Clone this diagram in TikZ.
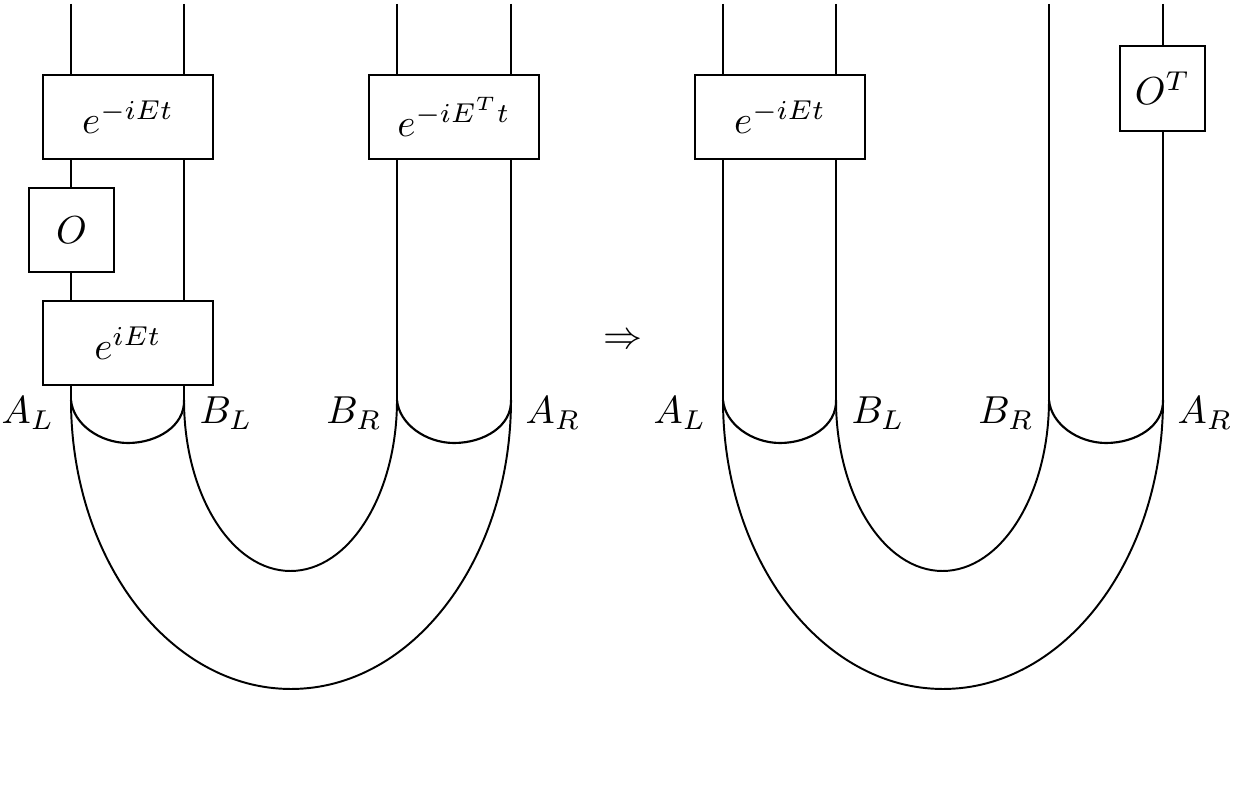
\documentclass[tikz,border=0pt]{standalone}
\begin{document}
\begin{tikzpicture}[x=0.2564pt,y=-0.2564pt,
  thinwire/.style={line width=0.4pt},
  thickwire/.style={line width=0.6pt},
  cup/.style={line width=0.55pt},
  bigarc/.style={line width=0.5pt},
  gate/.style={draw,line width=0.6pt,fill=white,inner sep=0pt,minimum width=43.6pt,minimum height=21.5pt},
  sgate/.style={draw,line width=0.6pt,fill=white,inner sep=0pt,minimum width=21.8pt,minimum height=21.7pt},
  lab/.style={inner sep=0pt}]
\useasboundingbox (0,0) rectangle (1236,788);
% ---------- left diagram ----------
\coordinate (aLt) at (71,4);   \coordinate (aL) at (71,400);
\coordinate (bLt) at (184,4);  \coordinate (bL) at (184,400);
\coordinate (bRt) at (397,4);  \coordinate (bR) at (397,400);
\coordinate (aRt) at (511,4);  \coordinate (aR) at (511,400);
\draw[thinwire] (aLt) -- (aL);
\draw[thickwire] (bLt) -- (bL);
\draw[thinwire] (bRt) -- (bR);
\draw[thickwire] (aRt) -- (aR);
\node[gate] (u1) at (128,117) {$e^{-iEt}$};
\node[sgate] (o1) at (71.5,230) {$O$};
\node[gate] (v1) at (128,343) {$e^{iEt}$};
\node[gate] (w1) at (454,117) {$e^{-iE^Tt}$};
\draw[bigarc] (aL) arc[start angle=180,end angle=360,x radius={220*0.2564pt},y radius={289*0.2564pt}];
\draw[bigarc] (bL) arc[start angle=180,end angle=360,x radius={106.5*0.2564pt},y radius={171*0.2564pt}];
\draw[cup] (aL) .. controls (73,424) and (100,443) .. (128,443) .. controls (157,443) and (185,426) .. (bL);
\draw[cup] (bR) .. controls (399,424) and (426,443) .. (454,443) .. controls (484,443) and (512,426) .. (aR);
\node[lab] (laL) at (28,413) {$A_L$};
\node[lab] (lbL) at (226,413) {$B_L$};
\node[lab] (lbR) at (354,413) {$B_R$};
\node[lab] (laR) at (553,413) {$A_R$};
% ---------- arrow ----------
\node[lab] (imp) at (623,341) {$\Rightarrow$};
% ---------- right diagram ----------
\coordinate (caLt) at (723,4);   \coordinate (caL) at (723,400);
\coordinate (cbLt) at (836,4);   \coordinate (cbL) at (836,400);
\coordinate (cbRt) at (1049,4);  \coordinate (cbR) at (1049,400);
\coordinate (caRt) at (1163,4);  \coordinate (caR) at (1163,400);
\draw[thinwire] (caLt) -- (caL);
\draw[thickwire] (cbLt) -- (cbL);
\draw[thinwire] (cbRt) -- (cbR);
\draw[thickwire] (caRt) -- (caR);
\node[gate] (u2) at (780,117) {$e^{-iEt}$};
\node[sgate] (o2) at (1162.5,88.5) {$O^T$};
\draw[bigarc] (caL) arc[start angle=180,end angle=360,x radius={220*0.2564pt},y radius={289*0.2564pt}];
\draw[bigarc] (cbL) arc[start angle=180,end angle=360,x radius={106.5*0.2564pt},y radius={171*0.2564pt}];
\draw[cup] (caL) .. controls (725,424) and (752,443) .. (780,443) .. controls (809,443) and (837,426) .. (cbL);
\draw[cup] (cbR) .. controls (1051,424) and (1078,443) .. (1106,443) .. controls (1136,443) and (1164,426) .. (caR);
\node[lab] (claL) at (680,413) {$A_L$};
\node[lab] (clbL) at (878,413) {$B_L$};
\node[lab] (clbR) at (1006,413) {$B_R$};
\node[lab] (claR) at (1205,413) {$A_R$};
\end{tikzpicture}
\end{document}
